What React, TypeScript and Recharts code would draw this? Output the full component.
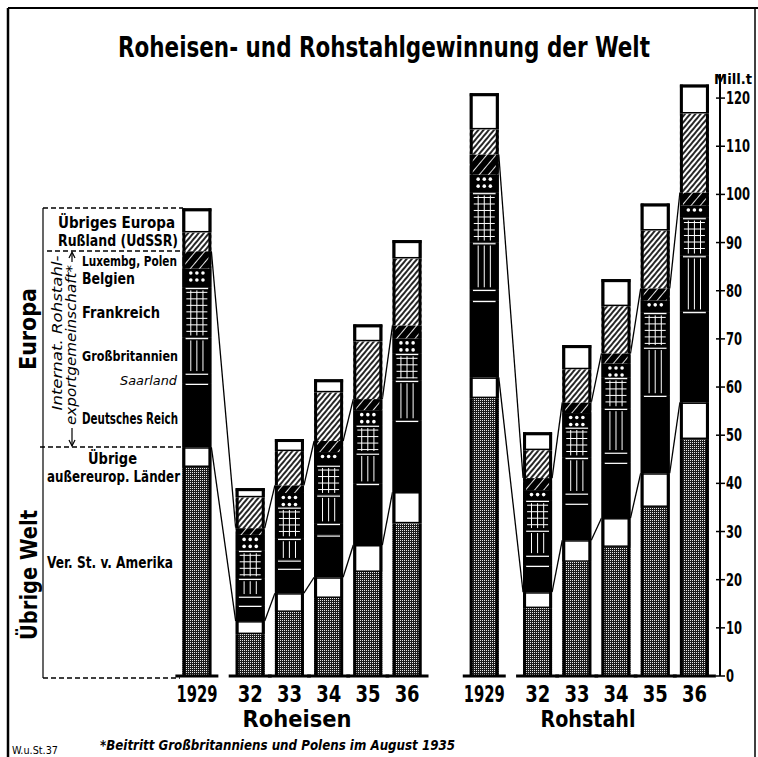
import { BarChart, Bar, XAxis, YAxis } from 'recharts';

const jahre = ['1929', '32', '33', '34', '35', '36'];
const gruppen = ['Roheisen', 'Rohstahl'];
const yTicks = [0, 10, 20, 30, 40, 50, 60, 70, 80, 90, 100, 110, 120];

// Mill. t — erst Roheisen 1929, 32..36, dann Rohstahl 1929, 32..36
const verStaaten = [43.4, 8.7, 13.3, 16.2, 21.6, 31.7, 57.7, 14.1, 23.7, 26.8, 35.1, 49.2];
const uebrigeAussereurop = [4.1, 2.7, 3.9, 4.3, 5.6, 6.5, 4.3, 3.3, 4.5, 6.0, 7.0, 7.6];
const deutschesReich = [13.3, 3.3, 5.2, 8.8, 12.8, 14.9, 16.0, 5.6, 7.7, 11.6, 16.2, 18.9];
const saarland = [2.1, 1.9, 1.7, 2.4, 0, 0, 2.3, 2.1, 2.1, 2.1, 0, 0];
const grossbritannien = [7.4, 3.7, 4.5, 5.9, 6.3, 8.3, 9.7, 5.2, 7.4, 9.1, 10.0, 11.6];
const frankreich = [10.4, 5.8, 6.5, 6.2, 5.8, 5.6, 10.4, 6.2, 6.3, 6.4, 7.2, 7.9];
const belgien = [3.9, 3.2, 2.9, 2.7, 3.1, 3.1, 3.7, 2.1, 2.9, 2.9, 2.5, 2.5];
const luxPolen = [3.6, 1.4, 1.6, 2.3, 2.3, 2.7, 4.2, 2.5, 2.2, 2.1, 2.5, 2.7];
const russland = [3.9, 6.4, 7.1, 10.1, 12.0, 13.9, 5.2, 5.8, 6.9, 9.8, 12.0, 16.4];
const uebrigesEuropa = [5.0, 1.9, 2.5, 2.7, 3.5, 3.8, 7.5, 3.7, 5.0, 5.6, 5.6, 6.0];

const series = [
  { key: 'usa', values: verStaaten },
  { key: 'uebrige', values: uebrigeAussereurop },
  { key: 'dr', values: deutschesReich },
  { key: 'saar', values: saarland },
  { key: 'gb', values: grossbritannien },
  { key: 'fr', values: frankreich },
  { key: 'belg', values: belgien },
  { key: 'luxpol', values: luxPolen },
  { key: 'russ', values: russland },
  { key: 'uebrEuropa', values: uebrigesEuropa },
];

const FONT = "'DejaVu Sans Condensed', 'DejaVu Sans', sans-serif";
const STEP = 39.2; // px je Einheit der x-Achse
const X_DOMAIN: [number, number] = [-4.82, 13.34];

// 1929 steht etwas abgesetzt, dann 32..36 im gleichen Abstand
function posOf(i: number) {
  const g = Math.floor(i / 6);
  const k = i % 6;
  return g * 7.33 + (k === 0 ? 0 : k + 0.36);
}

const rows = gruppen.flatMap((g, gi) =>
  jahre.map((j, k) => {
    const i = gi * 6 + k;
    const row: any = { jahr: j, gruppe: g, pos: posOf(i) };
    series.forEach((s) => (row[s.key] = s.values[i]));
    return row;
  })
);

function cumUpTo(i: number, key: string) {
  let sum = 0;
  for (const s of series) {
    sum += s.values[i];
    if (s.key === key) break;
  }
  return sum;
}

const STYLE: Record<string, { fill: string; sep?: boolean; white?: boolean }> = {
  usa: { fill: 'url(#pUsa)' },
  uebrige: { fill: '#fff', white: true },
  dr: { fill: '#000', sep: true },
  saar: { fill: '#000', sep: true },
  gb: { fill: '#000', sep: true },
  fr: { fill: '#000', sep: true },
  belg: { fill: '#000' },
  luxpol: { fill: 'url(#pLux)' },
  russ: { fill: 'url(#pRuss)' },
  uebrEuropa: { fill: '#fff', white: true },
};

function Segment(props: any) {
  const { x, y, width: w, height: h, index, seg } = props;
  if (!(h > 0.2)) return <g />;
  const st = STYLE[seg];
  const els: any[] = [];
  els.push(<rect key="f" x={x} y={y} width={w} height={h} fill={st.fill} />);
  const cols = [0.29, 0.5, 0.71].map((f) => x + w * f);
  if (seg === 'gb' || seg === 'fr') {
    cols.forEach((cx, n) =>
      els.push(<line key={'v' + n} x1={cx} x2={cx} y1={y + 3} y2={y + h - 2} stroke="#fff" strokeWidth={1} />)
    );
  }
  if (seg === 'fr') {
    for (let yy = y + 5; yy < y + h - 2; yy += 6.5) {
      els.push(<line key={'h' + yy} x1={x + 4} x2={x + w - 4} y1={yy} y2={yy} stroke="#fff" strokeWidth={1} />);
    }
  }
  if (seg === 'belg') {
    for (let yy = y + 4.5; yy < y + h - 2; yy += 7) {
      cols.forEach((cx, n) => els.push(<circle key={'d' + yy + n} cx={cx} cy={yy} r={1.8} fill="#fff" />));
    }
  }
  if (st.sep) {
    els.push(<line key="s" x1={x + 3} x2={x + w - 3} y1={y + 1.2} y2={y + 1.2} stroke="#fff" strokeWidth={1.2} />);
  }
  if (st.white) {
    els.push(
      <rect key="o" x={x + 0.75} y={y + 0.75} width={w - 1.5} height={h - 1.5} fill="none" stroke="#000" strokeWidth={1.5} />
    );
  }
  els.push(<line key="l" x1={x + 1.5} x2={x + 1.5} y1={y} y2={y + h} stroke="#000" strokeWidth={3} />);
  els.push(<line key="r" x1={x + w - 1.5} x2={x + w - 1.5} y1={y} y2={y + h} stroke="#000" strokeWidth={3} />);
  if (seg === 'uebrEuropa') {
    els.push(<line key="t" x1={x} x2={x + w} y1={y + 1.5} y2={y + 1.5} stroke="#000" strokeWidth={3} />);
  }
  if (seg === 'usa') {
    els.push(<line key="b" x1={x - 7} x2={x + w + 7} y1={y + h} y2={y + h} stroke="#000" strokeWidth={3} />);
  }
  // Verbindungslinien: Ober- und Untergrenze der Internat. Rohstahlexportgemeinschaft
  if ((seg === 'luxpol' || seg === 'uebrige') && index % 6 < 5) {
    const s = series.find((q) => q.key === seg)!;
    const ppu = h / s.values[index];
    const yNext = y + (cumUpTo(index, seg) - cumUpTo(index + 1, seg)) * ppu;
    const xNext = x + (posOf(index + 1) - posOf(index)) * STEP;
    els.push(<line key="c" x1={x + w} y1={y} x2={xNext} y2={yNext} stroke="#000" strokeWidth={1.3} />);
  }
  return <g>{els}</g>;
}

const YearTick = (props: any) => {
  const { x, y, payload } = props;
  const row = rows.find((r) => Math.abs(r.pos - payload.value) < 1e-6);
  if (!row) return <g />;
  const label = row.jahr;
  return (
    <text
      x={x}
      y={y + 26}
      textAnchor="middle"
      fontFamily={FONT}
      fontWeight="bold"
      fontSize={23}
      fill="#000"
      textLength={label.length === 4 ? 41 : 25}
      lengthAdjust="spacingAndGlyphs"
    >
      {label}
    </text>
  );
};

const MillTick = (props: any) => {
  const { x, y, payload } = props;
  const label = String(payload.value);
  return (
    <g>
      <line x1={x - 4} x2={x + 5} y1={y} y2={y} stroke="#000" strokeWidth={1.5} />
      <text
        x={x + 6}
        y={y + 6}
        fontFamily={FONT}
        fontWeight="bold"
        fontSize={17}
        fill="#000"
        textLength={label.length * 8}
        lengthAdjust="spacingAndGlyphs"
      >
        {label}
      </text>
    </g>
  );
};

const txt = (x: number, y: number, s: string, size: number, len: number, extra: any = {}) => (
  <text
    x={x}
    y={y}
    fontFamily={FONT}
    fontWeight="bold"
    fontSize={size}
    fill="#000"
    textLength={len}
    lengthAdjust="spacingAndGlyphs"
    {...extra}
  >
    {s}
  </text>
);

function Overlay() {
  const dash = { stroke: '#000', strokeWidth: 1.5, strokeDasharray: '5 3' };
  return (
    <svg width={758} height={757} style={{ position: 'absolute', left: 0, top: 0, pointerEvents: 'none' }}>
      {/* Rahmen */}
      <line x1={8} x2={758} y1={8} y2={8} stroke="#000" strokeWidth={2} />
      <line x1={8} x2={8} y1={8} y2={757} stroke="#000" strokeWidth={2.5} />
      <line x1={755} x2={755} y1={8} y2={757} stroke="#000" strokeWidth={1.5} />

      {txt(384, 57, 'Roheisen- und Rohstahlgewinnung der Welt', 28, 532, { textAnchor: 'middle' })}
      {txt(714, 84, 'Mill.t', 14, 38)}

      {/* Legende links */}
      <line x1={43} x2={183} y1={208} y2={208} {...dash} />
      <line x1={47} x2={183} y1={251} y2={251} {...dash} />
      <line x1={40} x2={183} y1={447} y2={447} {...dash} />
      <line x1={43} x2={180} y1={678} y2={678} {...dash} />
      <line x1={43} x2={43} y1={208} y2={678} stroke="#000" strokeWidth={1.2} />

      {txt(58, 228, 'Übriges Europa', 15, 117)}
      {txt(58, 246, 'Rußland (UdSSR)', 15, 120)}
      {txt(82, 266, 'Luxembg, Polen', 14, 95)}
      {txt(82, 284, 'Belgien', 15, 53)}
      {txt(82, 318, 'Frankreich', 15, 78)}
      {txt(82, 361, 'Großbritannien', 14, 96)}
      {txt(120, 385, 'Saarland', 13, 57, { fontStyle: 'italic', fontWeight: 'normal' })}
      {txt(82, 424, 'Deutsches Reich', 15, 96)}
      {txt(88, 464, 'Übrige', 15, 49)}
      {txt(47, 482, 'außereurop. Länder', 15, 133)}
      {txt(47, 568, 'Ver. St. v. Amerika', 15, 126)}

      {txt(36, 329, 'Europa', 23, 82, { textAnchor: 'middle', transform: 'rotate(-90 36 329)' })}
      {txt(37, 575, 'Übrige Welt', 23, 130, { textAnchor: 'middle', transform: 'rotate(-90 37 575)' })}
      {txt(62, 333, 'Internat. Rohstahl-', 14, 155, {
        textAnchor: 'middle',
        fontStyle: 'italic',
        fontWeight: 'normal',
        transform: 'rotate(-90 62 333)',
      })}
      {txt(76, 345, 'exportgemeinschaft*', 14, 160, {
        textAnchor: 'middle',
        fontStyle: 'italic',
        fontWeight: 'normal',
        transform: 'rotate(-90 76 345)',
      })}
      <line x1={72} x2={72} y1={253} y2={262} stroke="#000" strokeWidth={1.2} />
      <path d="M69,258 L72,252 L75,258" fill="none" stroke="#000" strokeWidth={1.2} />
      <line x1={72} x2={72} y1={428} y2={446} stroke="#000" strokeWidth={1.2} />
      <path d="M69,440 L72,446 L75,440" fill="none" stroke="#000" strokeWidth={1.2} />

      {/* Gruppenbeschriftung */}
      {txt(297, 727, 'Roheisen', 23, 109, { textAnchor: 'middle' })}
      {txt(588, 727, 'Rohstahl', 23, 95, { textAnchor: 'middle' })}

      {txt(100, 750, '*Beitritt Großbritanniens und Polens im August 1935', 13.5, 355, { fontStyle: 'italic' })}
      {txt(12, 754, 'W.u.St.37', 10.5, 46, { fontWeight: 'normal' })}
    </svg>
  );
}

export default function App() {
  return (
    <div style={{ position: 'absolute', left: 0, top: 0, width: 758, height: 757, background: '#fff' }}>
      <BarChart width={758} height={757} data={rows} margin={{ top: 74, right: 0, bottom: 51, left: 8 }} barSize={29}>
        <defs>
          <pattern id="pUsa" width="2" height="2" patternUnits="userSpaceOnUse">
            <rect width="2" height="2" fill="#1c1c1c" />
            <rect x="0" y="0" width="1" height="1" fill="#e8e8e8" />
          </pattern>
          <pattern id="pLux" width="7" height="7" patternUnits="userSpaceOnUse" patternTransform="rotate(40)">
            <rect width="7" height="7" fill="#000" />
            <line x1="3.5" y1="0" x2="3.5" y2="7" stroke="#fff" strokeWidth="0.9" />
          </pattern>
          <pattern id="pRuss" width="4" height="4" patternUnits="userSpaceOnUse" patternTransform="rotate(40)">
            <rect width="4" height="4" fill="#fff" />
            <line x1="2" y1="0" x2="2" y2="4" stroke="#000" strokeWidth="1.7" />
          </pattern>
        </defs>
        <XAxis
          type="number"
          dataKey="pos"
          domain={X_DOMAIN}
          ticks={rows.map((r) => r.pos)}
          interval={0}
          axisLine={false}
          tickLine={false}
          tickSize={0}
          tickMargin={0}
          height={30}
          tick={<YearTick />}
        />
        <YAxis
          orientation="right"
          domain={[0, 125]}
          ticks={yTicks}
          width={38}
          axisLine={{ stroke: '#000', strokeWidth: 2 }}
          tickLine={false}
          tickSize={0}
          tickMargin={0}
          tick={<MillTick />}
        />
        {series.map((s) => (
          <Bar
            key={s.key}
            dataKey={s.key}
            stackId="welt"
            isAnimationActive={false}
            shape={(p: any) => <Segment {...p} seg={s.key} />}
          />
        ))}
      </BarChart>
      <Overlay />
    </div>
  );
}
